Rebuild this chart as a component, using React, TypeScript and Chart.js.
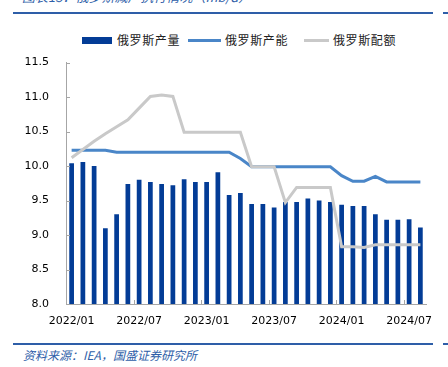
import React, { useEffect, useRef } from "react";
import { Chart, registerables } from "chart.js";

Chart.register(...registerables);

const categories: string[] = [
  "2022/01","2022/02","2022/03","2022/04","2022/05","2022/06","2022/07","2022/08","2022/09","2022/10","2022/11","2022/12",
  "2023/01","2023/02","2023/03","2023/04","2023/05","2023/06","2023/07","2023/08","2023/09","2023/10","2023/11","2023/12",
  "2024/01","2024/02","2024/03","2024/04","2024/05","2024/06","2024/07","2024/08",
];

const production: number[] = [
  10.04, 10.06, 10.0, 9.1, 9.3, 9.74, 9.8, 9.77, 9.74, 9.72, 9.81, 9.77,
  9.77, 9.91, 9.58, 9.61, 9.45, 9.45, 9.4, 9.48, 9.48, 9.53, 9.5, 9.48,
  9.44, 9.42, 9.42, 9.3, 9.22, 9.22, 9.23, 9.11,
];

const capacity: number[] = [
  10.23, 10.23, 10.23, 10.23, 10.2, 10.2, 10.2, 10.2, 10.2, 10.2, 10.2, 10.2,
  10.2, 10.2, 10.2, 10.11, 9.99, 9.99, 9.99, 9.99, 9.99, 9.99, 9.99, 9.99,
  9.86, 9.78, 9.78, 9.85, 9.77, 9.77, 9.77, 9.77,
];

const quota: number[] = [
  10.12, 10.24, 10.36, 10.47, 10.57, 10.67, 10.84, 11.01, 11.03, 11.01, 10.49, 10.49,
  10.49, 10.49, 10.49, 10.49, 9.99, 9.99, 9.99, 9.47, 9.69, 9.69, 9.69, 9.69,
  8.83, 8.83, 8.82, 8.86, 8.86, 8.86, 8.86, 8.86,
];

const seriesNames: string[] = ["俄罗斯产量", "俄罗斯产能", "俄罗斯配额"];
const yTicks: number[] = [8.0, 8.5, 9.0, 9.5, 10.0, 10.5, 11.0, 11.5];

const BAR = "#033c96";
const CAP = "#4a86c8";
const QUOTA = "#c9c9c9";
const HEAD = "#2e5ea8";

const innerTicks = {
  id: "innerTicks",
  afterDraw(chart: any) {
    const ctx = chart.ctx;
    const x = chart.scales.x;
    const y = chart.scales.y;
    const area = chart.chartArea;
    ctx.save();
    ctx.strokeStyle = "#a6a6a6";
    ctx.lineWidth = 1;
    ctx.beginPath();
    for (let i = 6; i < categories.length; i += 6) {
      const px = Math.round((x.getPixelForValue(i - 1) + x.getPixelForValue(i)) / 2) + 0.5;
      ctx.moveTo(px, area.bottom);
      ctx.lineTo(px, area.bottom - 4);
    }
    for (const v of yTicks) {
      const py = Math.round(y.getPixelForValue(v)) + 0.5;
      ctx.moveTo(area.left, py);
      ctx.lineTo(area.left + 4, py);
    }
    ctx.stroke();
    ctx.restore();
  },
};

export default function App() {
  const ref = useRef<HTMLCanvasElement | null>(null);

  useEffect(() => {
    if (!ref.current) return;
    const chart = new Chart(ref.current, {
      type: "bar",
      data: {
        labels: categories,
        datasets: [
          {
            type: "bar",
            label: seriesNames[0],
            data: production,
            backgroundColor: BAR,
            categoryPercentage: 1,
            barPercentage: 0.42,
            order: 3,
          },
          {
            type: "line",
            label: seriesNames[1],
            data: capacity,
            borderColor: CAP,
            borderWidth: 3,
            pointRadius: 0,
            tension: 0,
            order: 2,
          },
          {
            type: "line",
            label: seriesNames[2],
            data: quota,
            borderColor: QUOTA,
            borderWidth: 3,
            pointRadius: 0,
            tension: 0,
            order: 1,
          },
        ] as any,
      },
      options: {
        animation: false,
        responsive: false,
        maintainAspectRatio: false,
        layout: { padding: { top: 0, right: 22, left: 0, bottom: 0 } },
        plugins: { legend: { display: false }, tooltip: { enabled: false } },
        scales: {
          x: {
            offset: true,
            grid: { display: false, drawTicks: false },
            border: { display: true, color: "#a6a6a6", width: 1 },
            ticks: {
              autoSkip: false,
              maxRotation: 0,
              minRotation: 0,
              padding: 11,
              color: "#000",
              font: { family: "DejaVu Sans", size: 11 },
              callback: (_v: any, i: number) => (i % 6 === 0 ? categories[i] : ""),
            },
            afterFit: (s: any) => {
              s.height = 30;
            },
          },
          y: {
            min: 8,
            max: 11.5,
            grid: { display: false, drawTicks: false },
            border: { display: true, color: "#a6a6a6", width: 1 },
            ticks: {
              stepSize: 0.5,
              padding: 17,
              color: "#000",
              font: { family: "DejaVu Sans", size: 11 },
              callback: (v: any) => Number(v).toFixed(1),
            },
            afterFit: (s: any) => {
              s.width = 66;
            },
          },
        },
      },
      plugins: [innerTicks],
    });
    return () => chart.destroy();
  }, []);

  const legendText: React.CSSProperties = {
    position: "absolute",
    top: 32,
    fontSize: 12,
    lineHeight: "16px",
    letterSpacing: 0.6,
    color: "#222",
    fontFamily: "'Noto Sans CJK SC', sans-serif",
    whiteSpace: "nowrap",
  };

  return (
    <div
      style={{
        position: "fixed",
        left: 0,
        top: 0,
        width: 448,
        height: 367,
        background: "#fff",
        overflow: "hidden",
        fontFamily: "'Noto Sans CJK SC', sans-serif",
      }}
    >
      <div
        style={{
          position: "absolute",
          left: 22,
          top: -11,
          fontSize: 13,
          fontStyle: "italic",
          color: HEAD,
          whiteSpace: "nowrap",
          lineHeight: "16px",
        }}
      >
        图表13：俄罗斯减产执行情况（mb/d）
      </div>
      <div style={{ position: "absolute", left: 13, top: 12, width: 420, height: 2, background: HEAD }} />
      <div style={{ position: "absolute", left: 443, top: 12, width: 5, height: 2, background: HEAD }} />

      <div style={{ position: "absolute", left: 82, top: 37, width: 30, height: 7, background: BAR }} />
      <div style={{ ...legendText, left: 117 }}>{seriesNames[0]}</div>
      <div style={{ position: "absolute", left: 188, top: 39, width: 33, height: 3, background: CAP }} />
      <div style={{ ...legendText, left: 225 }}>{seriesNames[1]}</div>
      <div style={{ position: "absolute", left: 304, top: 39, width: 25, height: 3, background: QUOTA }} />
      <div style={{ ...legendText, left: 333 }}>{seriesNames[2]}</div>

      <canvas
        ref={ref}
        width={448}
        height={295}
        style={{ position: "absolute", left: 0, top: 39, width: 448, height: 295 }}
      />

      <div style={{ position: "absolute", left: 13, top: 343, width: 420, height: 2, background: HEAD }} />
      <div style={{ position: "absolute", left: 443, top: 343, width: 5, height: 2, background: HEAD }} />
      <div
        style={{
          position: "absolute",
          left: 23,
          top: 347,
          fontSize: 12,
          fontStyle: "italic",
          color: HEAD,
          whiteSpace: "nowrap",
          lineHeight: "16px",
        }}
      >
        资料来源：IEA，国盛证券研究所
      </div>
    </div>
  );
}
